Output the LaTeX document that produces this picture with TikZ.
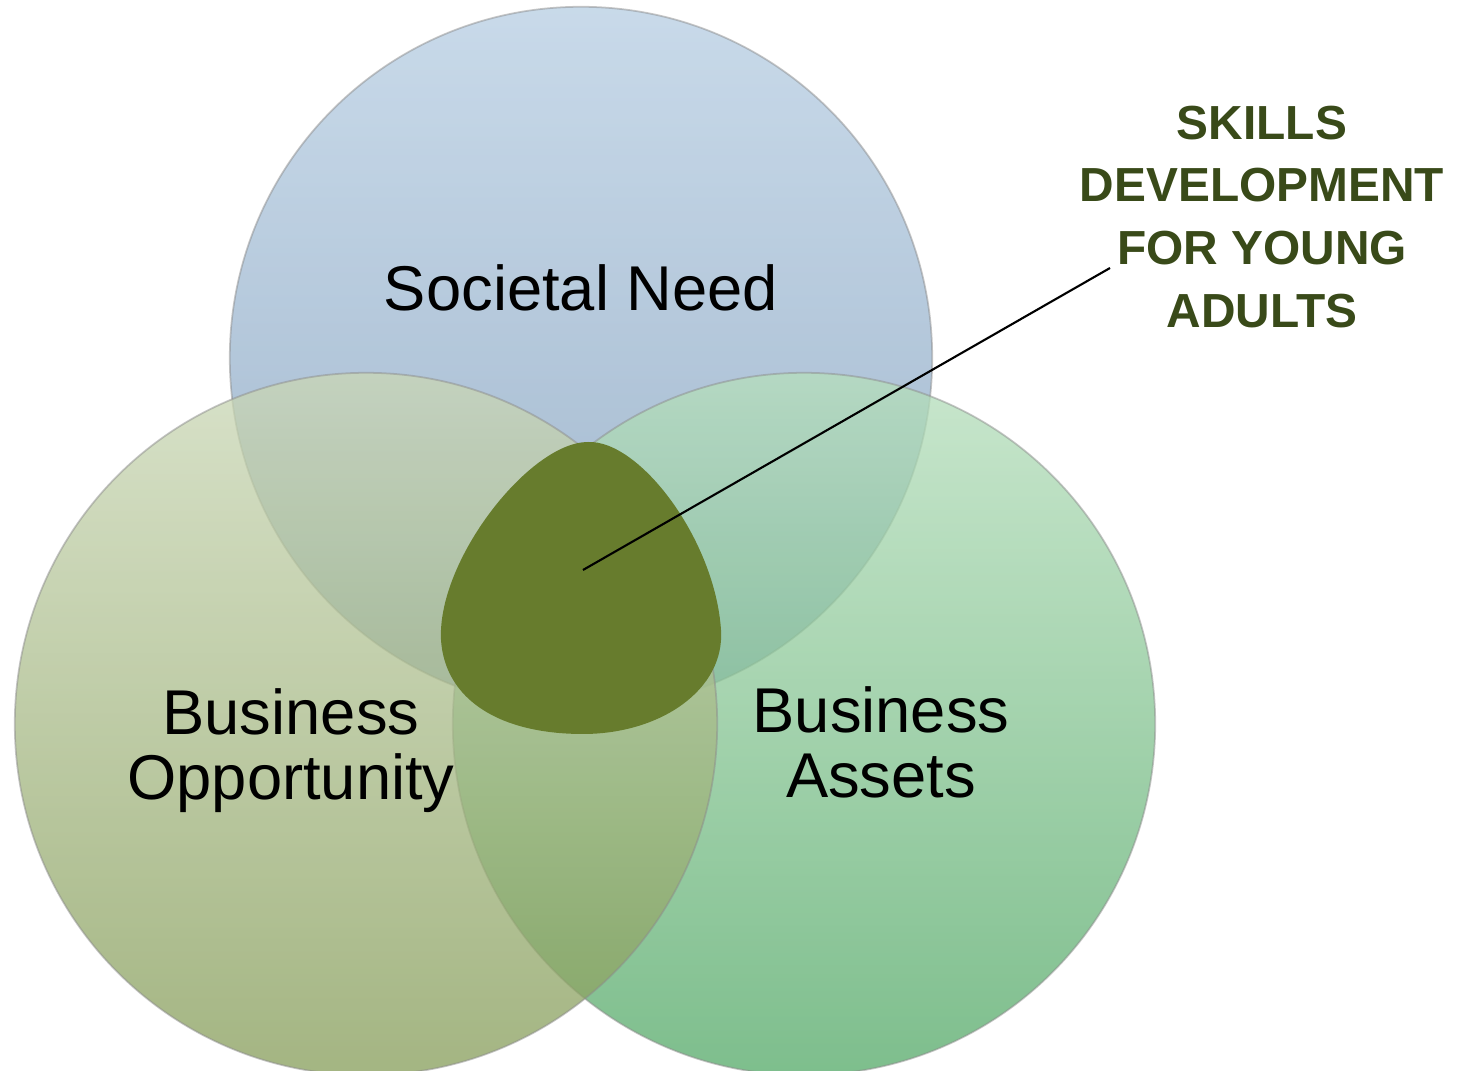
\documentclass[tikz,border=0pt]{standalone}
\usepackage{fontspec}
\setmainfont{Liberation Sans}
\usepackage{tikz}
\usetikzlibrary{calc}

\definecolor{needtop}{RGB}{182,205,226}
\definecolor{needbot}{RGB}{125,155,185}
\definecolor{opptop}{RGB}{202,215,182}
\definecolor{oppbot}{RGB}{133,156,88}
\definecolor{assettop}{RGB}{182,222,188}
\definecolor{assetbot}{RGB}{82,168,102}
\definecolor{core}{RGB}{103,124,45}
\definecolor{skilltext}{RGB}{57,74,25}

\tikzset{
  venn/.style={fill opacity=0.75, draw=black!45, draw opacity=0.5, line width=0.5pt},
  label/.style={align=center, font=\fontsize{18}{18.5}\selectfont, text=black},
  callout/.style={align=center, font=\fontsize{13.6}{17.9}\selectfont\bfseries, text=skilltext}
}

\begin{document}
\begin{tikzpicture}[x=0.01cm, y=-0.01cm]
    \useasboundingbox (0,0) rectangle (1461,1071);
    % circles
    \path[venn, top color=needtop, bottom color=needbot] (581,358) circle [radius=3.51cm];
    \path[venn, top color=assettop, bottom color=assetbot] (804,724) circle [radius=3.51cm];
    \path[venn, top color=opptop, bottom color=oppbot] (366,724) circle [radius=3.51cm];
    % common part
    \fill[core] (588,442) .. controls (640,440) and (715,540) .. (721,630)
      .. controls (725,690) and (660,734) .. (583,734)
      .. controls (500,734) and (445,700) .. (441,640)
      .. controls (437,560) and (530,442) .. (588,442) -- cycle;
    % labels
    \node[label] (need) at (581,288) {Societal Need};
    \node[label] (opp) at (291,751) {Business\\Opportunity};
    \node[label] (assets) at (881,742) {Business\\Assets};
    \node[callout] (skills) at (1262,217) {SKILLS\\DEVELOPMENT\\FOR YOUNG\\ADULTS};
    % pointer
    \coordinate (tip) at (583,570);
    \coordinate (lead) at (1110,268);
    \draw[line width=0.6pt] (tip) -- (lead);
\end{tikzpicture}
\end{document}
